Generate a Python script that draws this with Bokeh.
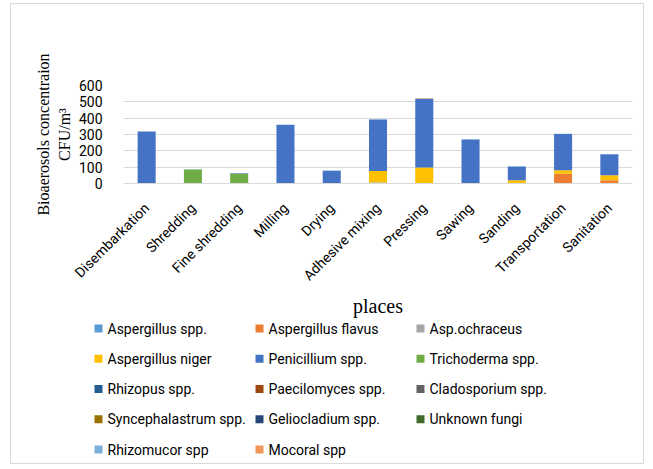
from bokeh.plotting import figure
from bokeh.models import ColumnDataSource, FactorRange, Range1d, FixedTicker
from bokeh.core.properties import value
from bokeh.embed import file_html
from bokeh.resources import INLINE
import math

places = ["Disembarkation", "Shredding", "Fine shredding", "Milling", "Drying",
          "Adhesive mixing", "Pressing", "Sawing", "Sanding", "Transportation", "Sanitation"]

series_names = ["Aspergillus spp.", "Aspergillus flavus", "Asp.ochraceus",
                "Aspergillus niger", "Penicillium spp.", "Trichoderma spp.",
                "Rhizopus spp.", "Paecilomyces spp.", "Cladosporium spp.",
                "Syncephalastrum spp.", "Geliocladium spp.", "Unknown fungi",
                "Rhizomucor spp", "Mocoral spp"]

colors = ["#5B9BD5", "#ED7D31", "#A5A5A5", "#FFC000", "#4472C4", "#70AD47",
          "#255E91", "#9E480E", "#636363", "#997300", "#264478", "#43682B",
          "#7CAFDD", "#F1975A"]

aspergillus_spp   = [0, 0, 0, 0, 0, 6, 0, 0, 0, 0, 0]
aspergillus_flavus = [0, 0, 0, 0, 0, 0, 0, 0, 0, 59, 20]
asp_ochraceus     = [0, 0, 0, 0, 0, 0, 0, 0, 0, 0, 0]
aspergillus_niger = [0, 0, 0, 0, 0, 71, 98, 0, 20, 22, 31]
penicillium_spp   = [318, 0, 0, 360, 78, 315, 419, 270, 84, 222, 128]
trichoderma_spp   = [0, 85, 58, 0, 0, 0, 0, 0, 0, 0, 0]
rhizopus_spp      = [0] * 11
paecilomyces_spp  = [0] * 11
cladosporium_spp  = [0] * 11
syncephalastrum_spp = [0] * 11
geliocladium_spp  = [0, 0, 3, 0, 0, 0, 0, 0, 0, 0, 0]
unknown_fungi     = [0] * 11
rhizomucor_spp    = [0, 2, 0, 0, 2, 3, 3, 3, 2, 2, 2]
mocoral_spp       = [0, 0, 0, 0, 0, 0, 4, 0, 0, 0, 0]

y_ticks = [0, 100, 200, 300, 400, 500, 600]

series_values = [aspergillus_spp, aspergillus_flavus, asp_ochraceus, aspergillus_niger,
                 penicillium_spp, trichoderma_spp, rhizopus_spp, paecilomyces_spp,
                 cladosporium_spp, syncephalastrum_spp, geliocladium_spp, unknown_fungi,
                 rhizomucor_spp, mocoral_spp]

SANS = "Roboto"
SERIF = "Liberation Serif"
BORDER = "1px solid #d9d9d9"

keys = ["s%d" % i for i in range(len(series_names))]
data = {"place": places}
for k, v in zip(keys, series_values):
    data[k] = v
src = ColumnDataSource(data)

W = 634
p = figure(x_range=FactorRange(*places, range_padding=0), y_range=Range1d(0, 600),
           width=W, height=316, output_backend="svg", toolbar_location=None,
           min_border_left=112, min_border_right=13, min_border_top=81, min_border_bottom=137,
           margin=(3, 0, 0, 10),
           styles={"border": BORDER, "border-bottom": "none"})
p.x_range.factor_padding = 0

rends = p.vbar_stack(keys, x="place", width=0.39, color=colors, source=src,
                     line_color=None)

p.outline_line_color = None
p.xgrid.grid_line_color = None
p.ygrid.grid_line_color = "#d9d9d9"
p.ygrid.grid_line_width = 1
p.yaxis.ticker = FixedTicker(ticks=y_ticks)

p.yaxis.axis_line_color = None
p.yaxis.major_tick_line_color = None
p.yaxis.minor_tick_line_color = None
p.yaxis.major_label_standoff = 15
p.yaxis.major_label_text_font = SANS
p.yaxis.major_label_text_font_size = "14px"
p.yaxis.major_label_text_color = "#000000"
p.yaxis.axis_label = "Bioaerosols concentraion\nCFU/m\u00b3"
p.yaxis.axis_label_text_font = SERIF
p.yaxis.axis_label_text_font_size = "16px"
p.yaxis.axis_label_text_font_style = "normal"
p.yaxis.axis_label_text_color = "#000000"
p.yaxis.axis_label_standoff = 3

p.xaxis.axis_line_color = "#d9d9d9"
p.xaxis.major_tick_line_color = None
p.xaxis.minor_tick_line_color = None
p.xaxis.major_label_orientation = math.pi / 4
p.xaxis.major_label_standoff = 16
p.xaxis.major_label_text_font = SANS
p.xaxis.major_label_text_font_size = "14px"
p.xaxis.major_label_text_color = "#000000"
p.xaxis.axis_label = "places"
p.xaxis.axis_label_text_font = SERIF
p.xaxis.axis_label_text_font_size = "20px"
p.xaxis.axis_label_text_font_style = "normal"
p.xaxis.axis_label_text_color = "#000000"
p.xaxis.axis_label_standoff = 3

# legend panel (separate root, pixel coordinates, y downward)
LH = 145
p2 = figure(width=W, height=LH, x_range=Range1d(0, W), y_range=Range1d(LH, 0),
            x_axis_type=None, y_axis_type=None, output_backend="svg", toolbar_location=None,
            min_border=0, margin=(0, 0, 0, 10),
            styles={"border": BORDER, "border-top": "none"})
p2.outline_line_color = None
p2.xgrid.grid_line_color = None
p2.ygrid.grid_line_color = None

ncol = 3
col_x0 = 83
col_pitch = 161
row_y0 = 9
row_pitch = 30.25
lx = [col_x0 + (i % ncol) * col_pitch for i in range(len(series_names))]
ly = [row_y0 + (i // ncol) * row_pitch for i in range(len(series_names))]
leg_src = ColumnDataSource(dict(
    x=[v + 4 for v in lx], tx=[v + 13 for v in lx], y=ly,
    label=series_names, color=colors))
p2.rect(x="x", y="y", width=8, height=8, fill_color="color", line_color=None, source=leg_src)
p2.text(x="tx", y="y", text="label", source=leg_src, text_font=value(SANS),
        text_font_size="14px", text_baseline="middle", text_align="left",
        text_color="#000000")

open("out.html", "w").write(file_html([p, p2], INLINE))
